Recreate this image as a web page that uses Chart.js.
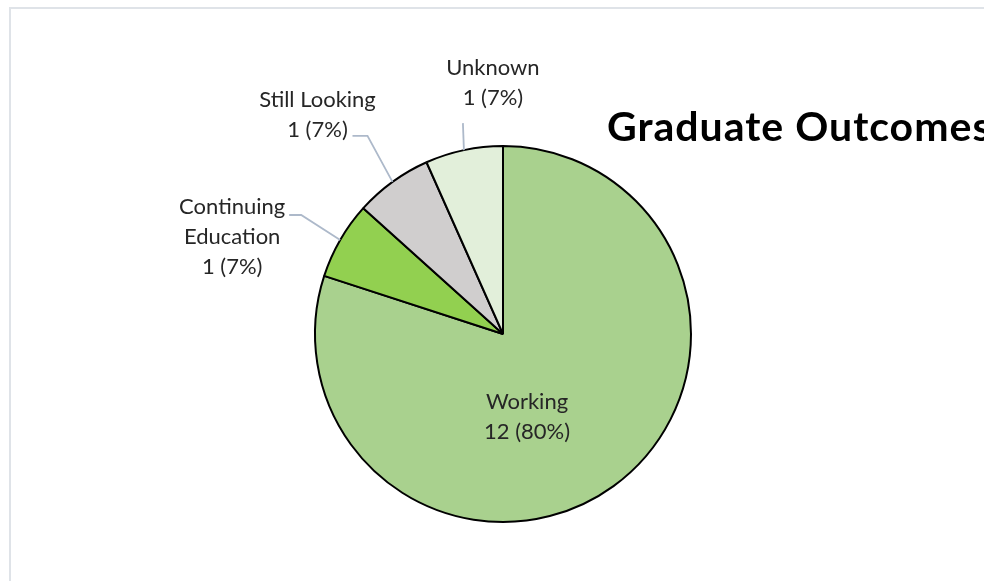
<!DOCTYPE html>
<html>
<head>
<meta charset="utf-8">
<script src="https://cdn.jsdelivr.net/npm/chart.js@4.4.0/dist/chart.umd.min.js"></script>
<style>
  html, body { margin: 0; padding: 0; background: #fff; }
  #wrap { width: 984px; height: 581px; }
</style>
</head>
<body>
<div id="wrap"><canvas id="outcomeChart" width="984" height="581"></canvas></div>
<script>
const categories = ["Working", "Continuing Education", "Still Looking", "Unknown"];
const counts = [12, 1, 1, 1];
const sliceColors = ["#A9D18E", "#92D050", "#D0CECE", "#E2EFDA"];
const chartTitle = "Graduate Outcomes";

const labelFont = '22px Lato, "Open Sans", sans-serif';
const lineHeight = 30;

// where each data label sits, relative to the middle of its slice's outer edge
// (inside labels are relative to the pie centre)
const labelLayout = [
  { inside: true, text: [24, 83] },
  { wrap: true, elbow: [-39, -25], end: [-51, -25], text: [-108, -3] },
  { elbow: [-25, -46], end: [-40, -46], text: [-75, -67] },
  { elbow: [-1, -27], end: [-1, -27], text: [29, -67] },
];

const ctx = document.getElementById("outcomeChart").getContext("2d");

const frameAndLabels = {
  id: "frameAndLabels",
  beforeDraw(chart) {
    const c = chart.ctx;
    c.save();
    c.fillStyle = "#fff";
    c.fillRect(0, 0, chart.width, chart.height);
    // chart area outline, only the left and top edges are in view
    c.strokeStyle = "#DFE3E8";
    c.lineWidth = 2;
    c.strokeRect(10, 8, 1200, 1200);
    c.restore();
  },
  afterDatasetsDraw(chart) {
    const c = chart.ctx;
    const meta = chart.getDatasetMeta(0);
    const total = counts.reduce((a, b) => a + b, 0);
    c.save();
    c.font = labelFont;
    c.fillStyle = "#262626";
    c.textAlign = "center";
    c.textBaseline = "middle";
    meta.data.forEach((arc, i) => {
      const lay = labelLayout[i];
      const mid = (arc.startAngle + arc.endAngle) / 2;
      let lines = lay.wrap ? categories[i].split(" ") : [categories[i]];
      lines = lines.concat(counts[i] + " (" + Math.round((counts[i] / total) * 100) + "%)");
      let tx, ty;
      if (lay.inside) {
        tx = arc.x + lay.text[0];
        ty = arc.y + lay.text[1];
      } else {
        const ex = arc.x + Math.cos(mid) * arc.outerRadius;
        const ey = arc.y + Math.sin(mid) * arc.outerRadius;
        c.beginPath();
        c.strokeStyle = "#ADB9CA";
        c.lineWidth = 1.8;
        c.moveTo(ex, ey);
        c.lineTo(ex + lay.elbow[0], ey + lay.elbow[1]);
        c.lineTo(ex + lay.end[0], ey + lay.end[1]);
        c.stroke();
        tx = ex + lay.text[0];
        ty = ey + lay.text[1];
      }
      const top = ty - ((lines.length - 1) * lineHeight) / 2;
      lines.forEach((s, k) => c.fillText(s, tx, top + k * lineHeight));
    });
    c.restore();
  },
  afterDraw(chart) {
    const c = chart.ctx;
    c.save();
    c.font = 'bold 41px Lato, "Open Sans", sans-serif';
    c.letterSpacing = "1px";
    c.fillStyle = "#000";
    c.textAlign = "left";
    c.textBaseline = "middle";
    c.fillText(chartTitle, 607, 128);
    c.restore();
  },
};

const myChart = new Chart(ctx, {
  type: "pie",
  data: {
    labels: categories,
    datasets: [
      {
        data: counts,
        backgroundColor: sliceColors,
        borderColor: "#000",
        borderWidth: 2,
      },
    ],
  },
  options: {
    responsive: false,
    animation: false,
    layout: {
      padding: { left: 314, right: 292, top: 145, bottom: 58 },
    },
    plugins: {
      legend: { display: false },
      tooltip: { enabled: false },
    },
  },
  plugins: [frameAndLabels],
});
</script>
</body>
</html>
